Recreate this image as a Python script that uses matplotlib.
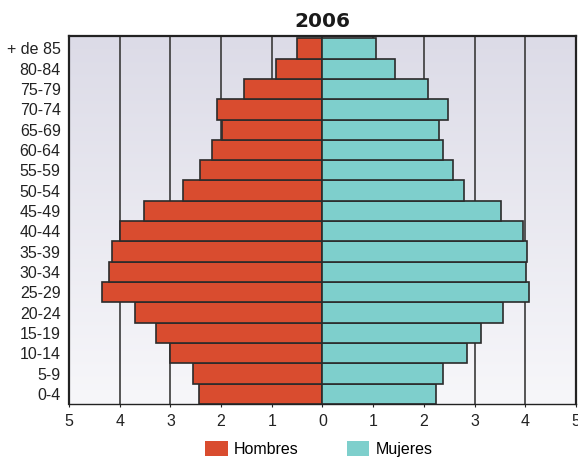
import numpy as np
import matplotlib
matplotlib.use("Agg")
import matplotlib.pyplot as plt
from matplotlib.patches import Patch

plt.rcParams["font.family"] = ["Liberation Sans", "DejaVu Sans"]

# ---------------------------------------------------------------------------
# data (percent of population)
# ---------------------------------------------------------------------------
GROUPS = ["0-4", "5-9", "10-14", "15-19", "20-24", "25-29", "30-34", "35-39",
          "40-44", "45-49", "50-54", "55-59", "60-64", "65-69", "70-74",
          "75-79", "80-84", "+ de 85"]
HOMBRES = [2.43, 2.56, 3.00, 3.29, 3.69, 4.34, 4.21, 4.16, 4.00, 3.52,
           2.75, 2.41, 2.17, 1.99, 2.09, 1.54, 0.92, 0.50]
MUJERES = [2.23, 2.37, 2.86, 3.12, 3.56, 4.08, 4.01, 4.03, 3.96, 3.52,
           2.79, 2.58, 2.37, 2.29, 2.47, 2.08, 1.43, 1.06]
XTICKS = [-5, -4, -3, -2, -1, 0, 1, 2, 3, 4, 5]
TITLE = "2006"

RED = "#d94c2f"
TEAL = "#7ecfcc"
EDGE = "#2b2b2b"

fig = plt.figure(figsize=(5.78, 4.61), dpi=100)
ax = fig.add_axes([0.1194, 0.1236, 0.8771, 0.7983])

# gradient background, lavender at top fading to near white at the bottom
grad = np.linspace(0, 1, 256).reshape(-1, 1)
cmap = matplotlib.colors.LinearSegmentedColormap.from_list(
    "bg", ["#f7f7fa", "#dcdbe7"])
ax.imshow(grad, aspect="auto", cmap=cmap, extent=[0, 1, 1, 0],
          transform=ax.transAxes, zorder=0)

y = np.arange(len(GROUPS))
for xv in XTICKS[1:-1]:
    ax.axvline(xv, color="#3a3a3a", lw=1.2, zorder=1)

ax.barh(y, -np.array(HOMBRES), height=1.0, color=RED, edgecolor=EDGE,
        lw=1.2, zorder=2)
ax.barh(y, MUJERES, height=1.0, color=TEAL, edgecolor=EDGE, lw=1.2, zorder=2)

ax.set_xlim(-5, 5)
ax.set_ylim(-0.5, 17.61)
ax.set_xticks(XTICKS)
ax.set_xticklabels([str(abs(v)) for v in XTICKS])
ax.set_yticks(y)
ax.set_yticklabels(GROUPS)
ax.tick_params(axis="both", labelsize=11.5, colors="#222222", length=2,
               width=0.8, pad=5)
ax.tick_params(axis="y", length=0, pad=6)
for sp in ax.spines.values():
    sp.set_color("#222222")
    sp.set_linewidth(1.6)
ax.spines["bottom"].set_linewidth(1.0)

fig.text(0.557, 0.953, TITLE, ha="center", va="center", fontsize=14.5,
         fontweight="bold", family=["DejaVu Sans"], color="#1a1a1a")

handles = [Patch(facecolor=RED, edgecolor="none", label="Hombres"),
           Patch(facecolor=TEAL, edgecolor="none", label="Mujeres")]
fig.legend(handles=handles, loc="center", bbox_to_anchor=(0.552, 0.026),
           ncol=2, frameon=False, fontsize=11.5, handlelength=1.4,
           handleheight=1.1, handletextpad=0.4, columnspacing=3.0)

fig.savefig("out.png", dpi=100)
